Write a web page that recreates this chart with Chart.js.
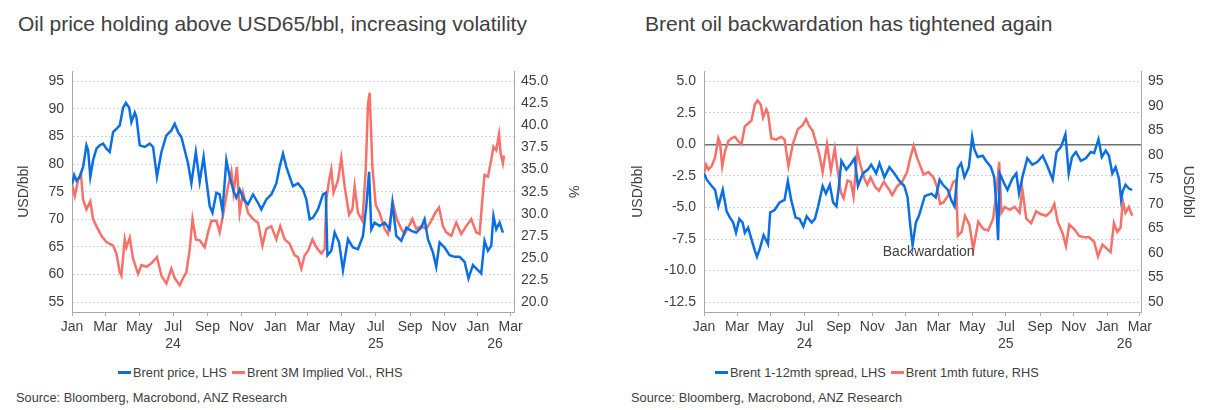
<!DOCTYPE html>
<html>
<head>
<meta charset="utf-8">
<script src="https://cdn.jsdelivr.net/npm/chart.js@4.4.1/dist/chart.umd.min.js"></script>
<style>
  body { margin: 0; width: 1213px; height: 410px; background: #fff; position: relative; overflow: hidden;
         font-family: 'Liberation Sans', Arial, sans-serif; color: #404040; }
  .title { position: absolute; top: 12px; font-size: 21px; white-space: nowrap; }
  .legend { position: absolute; top: 365px; font-size: 12.8px; white-space: nowrap; display: flex; align-items: center; }
  .legend .item { display: flex; align-items: center; margin-right: 5px; }
  .legend .mark { display: inline-block; width: 13px; height: 3px; margin-right: 2px; }
  .source { position: absolute; top: 390px; font-size: 12.8px; white-space: nowrap; }
  canvas { position: absolute; top: 55px; }
</style>
</head>
<body>
<div class="title" style="left:18px">Oil price holding above USD65/bbl, increasing volatility</div>
<div class="title" style="left:645px">Brent oil backwardation has tightened again</div>

<canvas id="priceVolChart" width="606" height="300" style="left:0"></canvas>
<canvas id="spreadChart" width="607" height="300" style="left:606px"></canvas>

<div class="legend" style="left:118px">
  <span class="item"><span class="mark" style="background:#0b6fe3"></span>Brent price, LHS</span>
  <span class="item"><span class="mark" style="background:#f87168"></span>Brent 3M Implied Vol., RHS</span>
</div>
<div class="legend" style="left:715px">
  <span class="item"><span class="mark" style="background:#0b6fe3"></span>Brent 1-12mth spread, LHS</span>
  <span class="item"><span class="mark" style="background:#f87168"></span>Brent 1mth future, RHS</span>
</div>
<div class="source" style="left:16px">Source: Bloomberg, Macrobond, ANZ Research</div>
<div class="source" style="left:631px">Source: Bloomberg, Macrobond, ANZ Research</div>

<script>
// x values are days since 1 Jan 2024
var xTickDays = [0, 60, 121, 182, 244, 305, 366, 425, 486, 547, 609, 670, 731, 762, 790];
var xTickLabels = ['Jan', 'Mar', 'May', ['Jul', '24'], 'Sep', 'Nov', 'Jan', 'Mar', 'May', ['Jul', '25'], 'Sep', 'Nov', 'Jan', ['', '26'], 'Mar'];

var priceTicks = [55, 60, 65, 70, 75, 80, 85, 90, 95];
var volTicks = [20, 22.5, 25, 27.5, 30, 32.5, 35, 37.5, 40, 42.5, 45];
var spreadTicks = [-12.5, -10, -7.5, -5, -2.5, 0, 2.5, 5];
var futureTicks = [50, 55, 60, 65, 70, 75, 80, 85, 90, 95];

// Brent price (also used as the 1mth future in the right chart)
var priceDays = [0, 4, 8, 14, 20, 26, 29, 33, 38, 44, 50, 56, 62, 68, 74, 80, 86, 92, 97, 103,
  107, 113, 116, 122, 131, 140, 146, 153, 161, 170, 179, 185, 191, 197, 203, 209, 215, 223, 230, 237,
  242, 248, 253, 260, 266, 271, 278, 284, 291, 296, 302, 310, 317, 326, 335, 341, 350, 359, 368, 374,
  380, 386, 392, 398, 407, 416, 422, 428, 434, 443, 452, 457, 460, 467, 473, 481, 488, 497, 506, 515,
  524, 530, 535, 539, 545, 554, 563, 572, 577, 584, 593, 602, 611, 620, 629, 635, 641, 650, 656, 662,
  671, 680, 689, 698, 707, 714, 722, 731, 737, 743, 749, 755, 759, 764, 770, 776];
var brentPrice = [76.3, 78.0, 77.0, 77.7, 79.5, 83.4, 82.5, 77.7, 80.7, 82.8, 83.4, 83.7, 82.8, 82.2, 85.8, 86.4, 87.0, 90.2, 91.1, 90.2,
  87.6, 89.3, 88.5, 83.4, 83.1, 83.7, 83.1, 77.7, 82.2, 85.2, 86.1, 87.3, 85.8, 84.9, 82.5, 80.1, 76.5, 82.2, 76.8, 81.3,
  77.1, 72.4, 71.2, 74.8, 74.5, 71.5, 80.7, 77.7, 75.1, 73.9, 75.4, 73.5, 72.7, 74.5, 73.0, 71.8, 73.6, 74.5, 76.5, 79.5,
  81.9, 79.5, 77.7, 76.0, 76.5, 75.4, 73.6, 70.0, 70.3, 71.8, 74.5, 74.8, 63.5, 64.3, 67.6, 65.8, 60.8, 66.4, 64.9, 64.6,
  67.0, 72.4, 78.6, 68.2, 69.4, 68.8, 69.4, 68.2, 73.0, 67.0, 66.1, 68.5, 67.9, 67.6, 68.5, 70.0, 66.4, 64.0, 61.4, 65.8,
  64.9, 63.5, 63.2, 63.2, 62.3, 59.3, 61.7, 60.8, 60.2, 66.1, 64.3, 65.2, 70.6, 68.2, 69.4, 67.6];

// Brent 3M implied volatility, %
var volDays = [0, 5, 11, 16, 20, 26, 33, 38, 44, 53, 62, 74, 80, 86, 89, 95, 98, 104, 110, 119,
  125, 134, 143, 153, 161, 170, 179, 185, 194, 200, 206, 212, 217, 223, 230, 239, 245, 251, 260, 266,
  272, 281, 287, 291, 297, 302, 308, 317, 326, 335, 343, 350, 359, 368, 375, 383, 392, 401, 407, 413,
  419, 425, 433, 440, 449, 455, 458, 463, 467, 471, 479, 485, 491, 499, 505, 509, 515, 523, 529, 533,
  536, 541, 547, 554, 563, 569, 578, 585, 593, 599, 605, 613, 620, 629, 638, 647, 654, 661, 668, 674,
  683, 692, 701, 710, 719, 728, 734, 739, 743, 749, 755, 759, 764, 769, 772, 776, 778];
var impliedVol = [33.3, 32.0, 33.8, 34.6, 31.6, 30.5, 31.4, 29.4, 28.6, 27.5, 26.8, 26.4, 25.5, 23.4, 23.0, 27.1, 26.2, 27.3, 24.9, 23.2,
  24.2, 24.0, 24.4, 25.1, 23.0, 22.1, 23.8, 22.7, 21.9, 22.7, 23.4, 26.0, 29.4, 27.1, 27.0, 26.2, 27.9, 29.2, 29.2, 27.9,
  29.9, 33.1, 34.8, 32.4, 35.3, 30.1, 32.4, 30.1, 29.4, 29.0, 26.4, 28.3, 28.6, 27.1, 28.6, 27.1, 26.6, 25.3, 25.1, 23.8,
  25.3, 25.8, 27.1, 26.2, 25.5, 26.0, 31.6, 33.8, 35.0, 32.4, 33.8, 36.3, 33.1, 29.9, 30.5, 33.1, 30.1, 29.2, 35.0, 42.4,
  43.7, 35.3, 31.0, 30.1, 28.3, 27.7, 31.2, 29.4, 28.3, 27.7, 28.4, 29.4, 28.3, 28.6, 28.3, 29.2, 30.1, 30.7, 28.6, 27.9,
  27.5, 29.0, 27.7, 28.6, 29.4, 27.9, 27.7, 31.6, 34.4, 34.2, 36.1, 37.6, 37.2, 39.0, 36.8, 35.7, 36.6];

// Brent 1-12mth spread, USD/bbl
var spreadDays = [0, 5, 14, 20, 26, 34, 41, 47, 53, 58, 64, 70, 74, 80, 86, 92, 96, 101, 108, 116,
  120, 128, 137, 146, 152, 158, 166, 173, 180, 186, 195, 201, 207, 215, 221, 228, 234, 240, 244, 249,
  258, 267, 273, 279, 288, 297, 303, 312, 318, 327, 336, 345, 354, 363, 369, 374, 378, 384, 390, 400,
  406, 412, 420, 427, 433, 442, 448, 454, 460, 466, 472, 480, 486, 490, 496, 505, 511, 520, 526, 530,
  533, 536, 544, 550, 559, 566, 571, 577, 586, 595, 604, 614, 623, 632, 639, 647, 655, 661, 667, 674,
  683, 692, 701, 707, 715, 721, 728, 734, 740, 746, 752, 756, 759, 764, 770, 776];
var spread = [-2.3, -2.8, -3.3, -3.6, -4.9, -3.6, -5.3, -5.8, -6.2, -7.0, -5.9, -6.2, -7.0, -6.6, -7.5, -8.4, -8.9, -8.3, -7.2, -7.9,
  -5.4, -5.2, -4.6, -4.4, -2.9, -4.4, -5.8, -5.9, -6.5, -5.7, -6.2, -5.9, -4.9, -3.3, -3.9, -3.2, -4.6, -4.9, -3.5, -1.3,
  -2.0, -1.5, -1.1, -3.3, -2.3, -2.0, -1.6, -2.3, -1.5, -2.6, -1.8, -2.3, -2.9, -3.3, -4.2, -6.5, -8.0, -6.2, -5.6, -4.1,
  -4.0, -3.9, -4.2, -2.8, -3.2, -3.6, -4.4, -4.9, -1.9, -1.5, -2.6, -1.8, 0.6, -0.4, -1.0, -0.9, -1.3, -1.8, -2.6, -4.9,
  -7.6, -2.3, -3.1, -3.6, -2.7, -2.3, -3.9, -2.6, -1.1, -1.6, -1.4, -0.9, -1.8, -2.8, -0.6, -0.2, 0.8, -2.3, -1.0, -0.6,
  -1.3, -1.1, -0.6, -0.7, 0.4, -1.0, -0.5, -0.9, -2.3, -1.8, -2.7, -4.4, -3.7, -3.2, -3.5, -3.6];

var noteText = 'Backwardation';
var noteDay = 324;
var noteValue = -8.5;

var blue = '#0b6fe3';
var red = '#f87168';
var textColor = '#404040';
var axisColor = '#a8a8a8';
var gridColor = '#cfd4dc';

Chart.defaults.font.family = "'Liberation Sans', Arial, sans-serif";
Chart.defaults.font.size = 14;
Chart.defaults.color = textColor;

function toPoints(days, values) {
  return days.map(function (d, i) { return { x: d, y: values[i] }; });
}

function setTicks(list) {
  return function (scale) {
    scale.ticks = list.map(function (v) { return { value: v }; });
  };
}

function xAxis(maxDay) {
  return {
    type: 'linear',
    min: 0,
    max: maxDay,
    afterBuildTicks: setTicks(xTickDays),
    afterFit: function (s) { s.height = 43; },
    ticks: {
      autoSkip: false,
      maxRotation: 0,
      padding: 3,
      callback: function (v, i) { return xTickLabels[i]; }
    },
    grid: {
      drawOnChartArea: false,
      tickLength: 4,
      tickColor: function (c) {
        var lab = xTickLabels[c.index];
        return Array.isArray(lab) && lab[0] === '' ? 'rgba(0,0,0,0)' : axisColor;
      }
    },
    border: { color: axisColor }
  };
}

// dotted grid, with a solid zero line
var dottedGrid = {
  grid: {
    drawTicks: false,
    color: function (c) { return c.tick && c.tick.value === 0 ? '#707070' : gridColor; },
    lineWidth: function (c) { return c.tick && c.tick.value === 0 ? 1.5 : 1; }
  },
  border: {
    color: axisColor,
    dash: function (c) { return c.tick && c.tick.value !== 0 ? [2, 2] : []; }
  }
};

var sideAxis = {
  grid: { drawOnChartArea: false, drawTicks: false },
  border: { color: axisColor }
};

var noteLabel = {
  id: 'noteLabel',
  afterDatasetsDraw: function (chart) {
    var ctx = chart.ctx;
    ctx.save();
    ctx.font = "14px 'Liberation Sans', Arial, sans-serif";
    ctx.fillStyle = textColor;
    ctx.textBaseline = 'middle';
    ctx.fillText(noteText, chart.scales.x.getPixelForValue(noteDay), chart.scales.y.getPixelForValue(noteValue));
    ctx.restore();
  }
};

var commonOptions = {
  responsive: false,
  animation: false,
  layout: { padding: { top: 13 } },
  elements: {
    point: { radius: 0 },
    line: { borderWidth: 2.5, tension: 0 }
  },
  plugins: { legend: { display: false }, tooltip: { enabled: false } }
};

var priceVolChart = new Chart(document.getElementById('priceVolChart'), {
  type: 'line',
  data: {
    datasets: [
      { label: 'Brent price, LHS', data: toPoints(priceDays, brentPrice), borderColor: blue, yAxisID: 'y' },
      { label: 'Brent 3M Implied Vol., RHS', data: toPoints(volDays, impliedVol), borderColor: red, yAxisID: 'y1' }
    ]
  },
  options: Object.assign({}, commonOptions, {
    scales: {
      x: xAxis(796),
      y: Object.assign({}, dottedGrid, {
        position: 'left',
        min: 53.21,
        max: 96.79,
        afterBuildTicks: setTicks(priceTicks),
        afterFit: function (s) { s.width = 72; },
        ticks: { padding: 8 },
        title: { display: true, text: 'USD/bbl', padding: { top: 15.6, bottom: 0 } }
      }),
      y1: Object.assign({}, sideAxis, {
        position: 'right',
        min: 18.88,
        max: 46.12,
        afterBuildTicks: setTicks(volTicks),
        afterFit: function (s) { s.width = 92; },
        ticks: { padding: 7, callback: function (v) { return v.toFixed(1); } },
        title: { display: true, text: '%', padding: { top: 24.6, bottom: 0 } }
      })
    }
  })
});

var spreadChart = new Chart(document.getElementById('spreadChart'), {
  type: 'line',
  data: {
    datasets: [
      { label: 'Brent 1-12mth spread, LHS', data: toPoints(spreadDays, spread), borderColor: blue, yAxisID: 'y' },
      { label: 'Brent 1mth future, RHS', data: toPoints(priceDays, brentPrice), borderColor: red, yAxisID: 'y1' }
    ]
  },
  options: Object.assign({}, commonOptions, {
    scales: {
      x: xAxis(792),
      y: Object.assign({}, dottedGrid, {
        position: 'left',
        min: -13.28,
        max: 5.78,
        afterBuildTicks: setTicks(spreadTicks),
        afterFit: function (s) { s.width = 98; },
        ticks: { padding: 8, callback: function (v) { return v.toFixed(1); } },
        title: { display: true, text: 'USD/bbl', padding: { top: 23.9, bottom: 0 } }
      }),
      y1: Object.assign({}, sideAxis, {
        position: 'right',
        min: 47.99,
        max: 97.01,
        afterBuildTicks: setTicks(futureTicks),
        afterFit: function (s) { s.width = 72; },
        ticks: { padding: 7 },
        title: { display: true, text: 'USD/bbl', padding: { top: 16.6, bottom: 0 } }
      })
    }
  }),
  plugins: [noteLabel]
});
</script>
</body>
</html>
